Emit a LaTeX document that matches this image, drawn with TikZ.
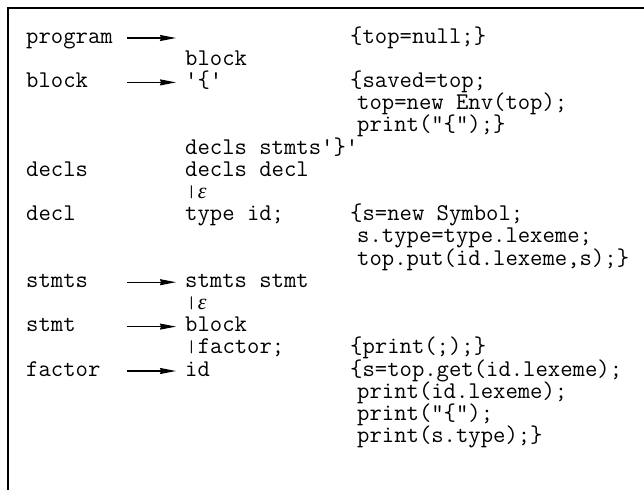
\documentclass[tikz,border=0pt]{standalone}
\usepackage{fontspec}
\newfontfamily\gkfont{Liberation Serif}
\usetikzlibrary{arrows.meta}
\newcommand\gbar{\makebox[12.6pt][c]{\raisebox{1pt}{\fontsize{17}{17}\selectfont|}}}
\newcommand\geps{{\gkfont\itshape\fontsize{22}{22}\selectfont ε}}
\begin{document}
\begin{tikzpicture}[x=1pt,y=-1pt,
  txt/.style={anchor=base west,inner sep=0pt,text height=14pt,text depth=4pt,font=\fontsize{24}{26}\selectfont\ttfamily},
  arr/.style={line width=1.1pt,-{Stealth[length=16pt,width=6pt,inset=1pt]}},
  frame/.style={line width=1.6pt}]
\useasboundingbox (0,0) rectangle (644,490);
\def\yo{38}\def\dy{22.2}\def\bo{5}
\def\ca{26}\def\cb{185}\def\cc{350}\def\cd{357}
\def\q{\textquotesingle}
\draw[frame] (8,490) -- (8,8) -- (644,8);
% column 1
\node[txt] (lprogram) at (\ca,{\yo+0*\dy+\bo}) {program};
\node[txt] (lblock)   at (\ca,{\yo+2*\dy+\bo}) {block};
\node[txt] (ldecls)   at (\ca,{\yo+6*\dy+\bo}) {decls};
\node[txt] (ldecl)    at (\ca,{\yo+8*\dy+\bo}) {decl};
\node[txt] (lstmts)   at (\ca,{\yo+11*\dy+\bo}) {stmts};
\node[txt] (lstmt)    at (\ca,{\yo+13*\dy+\bo}) {stmt};
\node[txt] (lfactor)  at (\ca,{\yo+15*\dy+\bo}) {factor};
% column 2
\node[txt] (r2)  at (\cb,{\yo+1*\dy+\bo}) {block};
\node[txt] (r3)  at (\cb,{\yo+2*\dy+\bo}) {\q\{\q};
\node[txt] (r6)  at (\cb,{\yo+5*\dy+\bo}) {decls stmts\q\}\q};
\node[txt] (r7)  at (\cb,{\yo+6*\dy+\bo}) {decls decl};
\node[txt] (r8)  at (\cb,{\yo+7*\dy+\bo}) {\gbar\geps};
\node[txt] (r9)  at (\cb,{\yo+8*\dy+\bo}) {type id;};
\node[txt] (r12) at (\cb,{\yo+11*\dy+\bo}) {stmts stmt};
\node[txt] (r13) at (\cb,{\yo+12*\dy+\bo}) {\gbar\geps};
\node[txt] (r14) at (\cb,{\yo+13*\dy+\bo}) {block};
\node[txt] (r15) at (\cb,{\yo+14*\dy+\bo}) {\gbar factor;};
\node[txt] (r16) at (\cb,{\yo+15*\dy+\bo}) {id};
% column 3
\node[txt] (a1)  at (\cc,{\yo+0*\dy+\bo}) {\{top=null;\}};
\node[txt] (a3)  at (\cc,{\yo+2*\dy+\bo}) {\{saved=top;};
\node[txt] (a4)  at (\cd,{\yo+3*\dy+\bo}) {top=new Env(top);};
\node[txt] (a5)  at (\cd,{\yo+4*\dy+\bo}) {print("\{");\}};
\node[txt] (a9)  at (\cc,{\yo+8*\dy+\bo}) {\{s=new Symbol;};
\node[txt] (a10) at (\cd,{\yo+9*\dy+\bo}) {s.type=type.lexeme;};
\node[txt] (a11) at (\cd,{\yo+10*\dy+\bo}) {top.put(id.lexeme,s);\}};
\node[txt] (a15) at (\cc,{\yo+14*\dy+\bo}) {\{print(;);\}};
\node[txt] (a16) at (\cc,{\yo+15*\dy+\bo}) {\{s=top.get(id.lexeme);};
\node[txt] (a17) at (\cd,{\yo+16*\dy+\bo}) {print(id.lexeme);};
\node[txt] (a18) at (\cd,{\yo+17*\dy+\bo}) {print("\{");};
\node[txt] (a19) at (\cd,{\yo+18*\dy+\bo}) {print(s.type);\}};
% arrows
\foreach \k/\n in {0/p,2/b,11/s,13/t,15/f}{
  \coordinate (s\n) at (127,{\yo+\k*\dy});
  \coordinate (e\n) at (176,{\yo+\k*\dy});
  \draw[arr] (s\n) -- (e\n);
}
\end{tikzpicture}
\end{document}
